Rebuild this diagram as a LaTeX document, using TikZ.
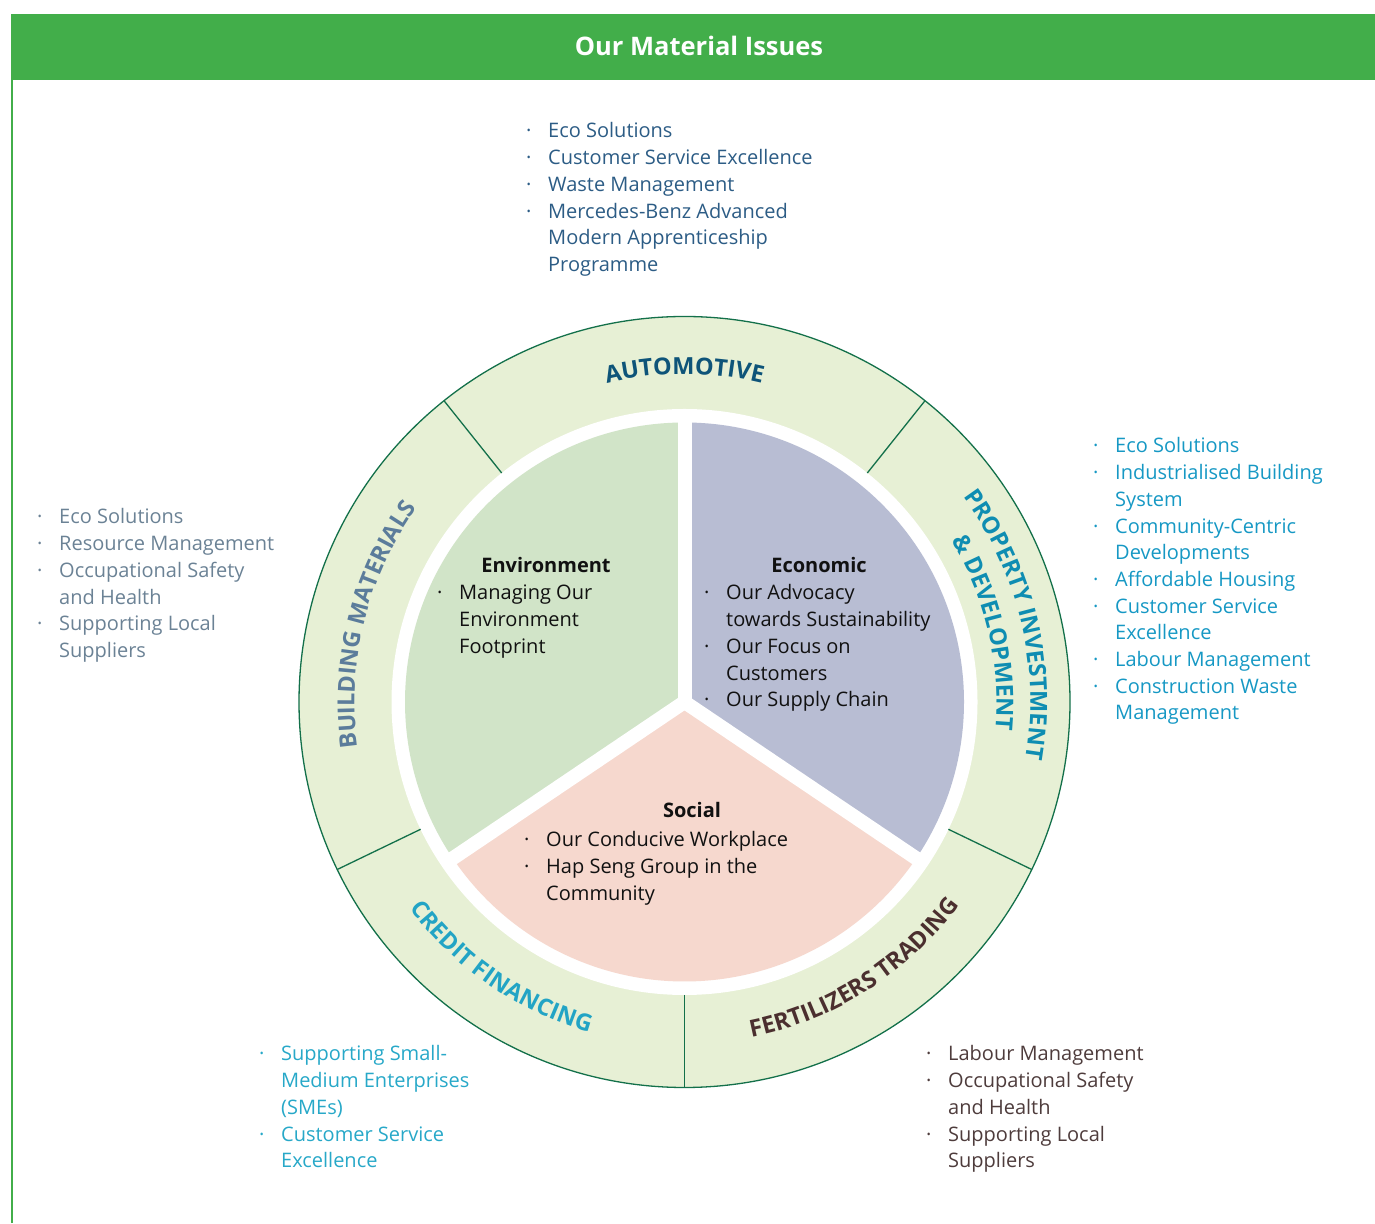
\documentclass[tikz,border=0pt]{standalone}
\usepackage{fontspec}
\setmainfont{Open Sans}
\usetikzlibrary{decorations.text}

\definecolor{hdrgreen}{HTML}{42AE4A}
\definecolor{ringfill}{HTML}{E7F0D5}
\definecolor{ringline}{HTML}{13704A}
\definecolor{envfill}{HTML}{D1E4C8}
\definecolor{ecofill}{HTML}{B8BDD3}
\definecolor{socfill}{HTML}{F6D8CE}
\definecolor{autolbl}{HTML}{0E5479}
\definecolor{autotxt}{HTML}{2C5C85}
\definecolor{bldlbl}{HTML}{5B7C9B}
\definecolor{bldtxt}{HTML}{6B8295}
\definecolor{proplbl}{HTML}{0E8DB2}
\definecolor{proptxt}{HTML}{1698C4}
\definecolor{credlbl}{HTML}{22A4C5}
\definecolor{credtxt}{HTML}{27A8C8}
\definecolor{fertlbl}{HTML}{4B2F2F}
\definecolor{ferttxt}{HTML}{4E3C3C}
\definecolor{bodyblack}{HTML}{111111}

\newcommand\ringfont{\fontsize{23.5}{23.5}\selectfont\bfseries}
\newcommand\bodyfont{\fontsize{20}{26.7}\selectfont}
\newcommand\bl[1]{\makebox[22pt][l]{·}#1}
\newcommand\cl[1]{\hspace*{22pt}#1}

\tikzset{
  listtxt/.style={font=\bodyfont, inner sep=0pt, anchor=base west},
  headtxt/.style={font=\bodyfont\bfseries, inner sep=0pt, anchor=base, text=bodyblack},
  divider/.style={draw=ringline, line width=1.3pt},
  gap/.style={draw=white, line width=14pt},
}

\begin{document}
\begin{tikzpicture}[x=1pt, y=1pt]
\useasboundingbox (0,0) rectangle (1375,1223);

% header band and left rule
\fill[hdrgreen] (11,1143) rectangle (1375,1209);
\draw[hdrgreen, line width=2pt] (11.5,0) -- (11.5,1143);
\node[font=\fontsize{25.5}{25.5}\selectfont\bfseries, text=white, anchor=base, inner sep=0pt]
  (title) at (699,1167) {Our Material Issues};

% outer ring
\coordinate (C) at (684.5,521);
\filldraw[fill=ringfill, draw=ringline, line width=1.3pt] (C) circle[radius=385.5];
\fill[white] (C) circle[radius=293];
\foreach \a in {51.4,128.6,205.75,270,334.25}
  \draw[divider] ([shift={(\a:293)}]C) -- ([shift={(\a:385.5)}]C);

% inner pie
\fill[envfill] (C) -- ([shift={(90:279.5)}]C) arc[start angle=90, end angle=214, radius=279.5] -- cycle;
\fill[ecofill] (C) -- ([shift={(90:279.5)}]C) arc[start angle=90, end angle=-34, radius=279.5] -- cycle;
\fill[socfill] (C) -- ([shift={(214:279.5)}]C) arc[start angle=214, end angle=326, radius=279.5] -- cycle;
\foreach \a in {90,214,326}
  \draw[gap] (C) -- ([shift={(\a:288)}]C);

% ring labels
\path[decorate, decoration={text along path, text align=center,
    text={|\ringfont\color{autolbl}|AUTOMOTIVE}}]
  ([shift={(130:328)}]C) arc[start angle=130, end angle=50, radius=328];
\path[decorate, decoration={text along path, text align=center,
    text={|\ringfont\color{bldlbl}|BUILDING MATERIALS}}]
  ([shift={(220:330)}]C) arc[start angle=220, end angle=112, radius=330];
\path[decorate, decoration={text along path, text align=center,
    text={|\ringfont\color{proplbl}|PROPERTY INVESTMENT}}]
  ([shift={(63.5:346)}]C) arc[start angle=63.5, end angle=-36.5, radius=346];
\path[decorate, decoration={text along path, text align=center,
    text={|\ringfont\color{proplbl}|{\&} DEVELOPMENT}}]
  ([shift={(63:312)}]C) arc[start angle=63, end angle=-37, radius=312];
\path[decorate, decoration={text along path, text align=center,
    text={|\ringfont\color{credlbl}|CREDIT FINANCING}}]
  ([shift={(185.4:344)}]C) arc[start angle=185.4, end angle=285.4, radius=344];
\path[decorate, decoration={text along path, text align=center,
    text={|\ringfont\color{fertlbl}|FERTILIZERS TRADING}}]
  ([shift={(252.4:342)}]C) arc[start angle=252.4, end angle=352.4, radius=342];

% pie texts
\node[headtxt] (envhead) at (546,650) {Environment};
\node[listtxt, text=bodyblack] (envlist) at (437,623) {\begin{tabular}[t]{@{}l@{}}
  \bl{Managing Our}\\ \cl{Environment}\\ \cl{Footprint}\end{tabular}};

\node[headtxt] (ecohead) at (819,650) {Economic};
\node[listtxt, text=bodyblack] (ecolist) at (704,623) {\begin{tabular}[t]{@{}l@{}}
  \bl{Our Advocacy}\\ \cl{towards Sustainability}\\ \bl{Our Focus on}\\
  \cl{Customers}\\ \bl{Our Supply Chain}\end{tabular}};

\node[headtxt] (sochead) at (692,405) {Social};
\node[listtxt, text=bodyblack] (soclist) at (524,376) {\begin{tabular}[t]{@{}l@{}}
  \bl{Our Conducive Workplace}\\ \bl{Hap Seng Group in the}\\ \cl{Community}\end{tabular}};

% business lists
\node[listtxt, text=autotxt] (autolist) at (526,1085) {\begin{tabular}[t]{@{}l@{}}
  \bl{Eco Solutions}\\ \bl{Customer Service Excellence}\\ \bl{Waste Management}\\
  \bl{Mercedes-Benz Advanced}\\ \cl{Modern Apprenticeship}\\ \cl{Programme}\end{tabular}};

\node[listtxt, text=bldtxt] (bldlist) at (37,699) {\begin{tabular}[t]{@{}l@{}}
  \bl{Eco Solutions}\\ \bl{Resource Management}\\ \bl{Occupational Safety}\\
  \cl{and Health}\\ \bl{Supporting Local}\\ \cl{Suppliers}\end{tabular}};

\node[listtxt, text=proptxt] (proplist) at (1093,770) {\begin{tabular}[t]{@{}l@{}}
  \bl{Eco Solutions}\\ \bl{Industrialised Building}\\ \cl{System}\\
  \bl{Community-Centric}\\ \cl{Developments}\\ \bl{Affordable Housing}\\
  \bl{Customer Service}\\ \cl{Excellence}\\ \bl{Labour Management}\\
  \bl{Construction Waste}\\ \cl{Management}\end{tabular}};

\node[listtxt, text=credtxt] (credlist) at (259,162) {\begin{tabular}[t]{@{}l@{}}
  \bl{Supporting Small-}\\ \cl{Medium Enterprises}\\ \cl{(SMEs)}\\
  \bl{Customer Service}\\ \cl{Excellence}\end{tabular}};

\node[listtxt, text=ferttxt] (fertlist) at (926,162) {\begin{tabular}[t]{@{}l@{}}
  \bl{Labour Management}\\ \bl{Occupational Safety}\\ \cl{and Health}\\
  \bl{Supporting Local}\\ \cl{Suppliers}\end{tabular}};
\end{tikzpicture}
\end{document}
